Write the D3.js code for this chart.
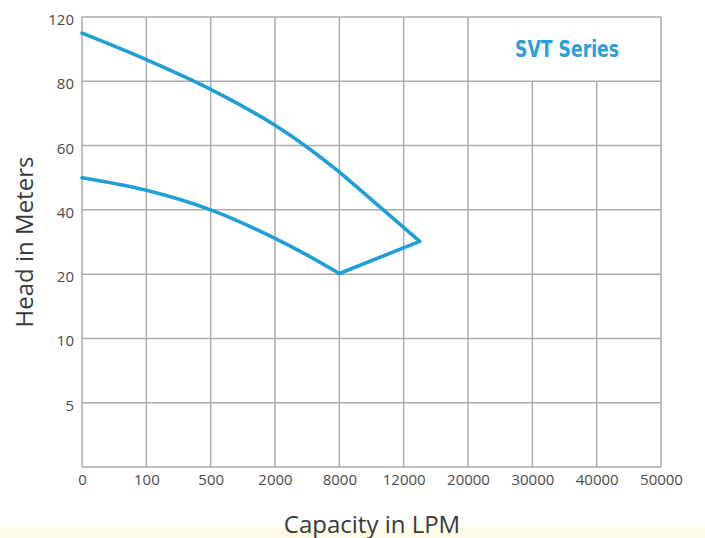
<!doctype html>
<html>
<head>
    <meta charset="UTF-8">
    <title>SVT Series</title>
    <script src="https://cdn.jsdelivr.net/npm/d3@7"></script>
    <style>
        body { margin: 0; background: #fff; }
    </style>
</head>
<body>
    <svg width="705" height="538"></svg>
    <script>
        // tick labels (equally spaced on the chart)
        var xTicks = [0, 100, 500, 2000, 8000, 12000, 20000, 30000, 40000, 50000];
        var yTicks = [0, 5, 10, 20, 40, 60, 80, 120];

        // curves
        var flow = [0, 100, 500, 2000, 5000, 8000];
        var upperHead = [110, 93.5, 77.5, 66.3, 59.5, 51.8];
        var lowerHead = [50, 46.1, 40, 31.1, 25.9, 20.2];
        var tip = [14000, 30.2];

        var padL = 82, padT = 17, w = 579, h = 450;
        var svg = d3.select("svg");

        svg.append("rect")
            .attr("x", 0).attr("y", 527).attr("width", 705).attr("height", 11)
            .attr("fill", "#fefce9");

        var x = d3.scaleLinear()
            .domain(xTicks)
            .range(xTicks.map(function (d, i) { return padL + i * w / (xTicks.length - 1); }));
        var y = d3.scaleLinear()
            .domain(yTicks)
            .range(yTicks.map(function (d, i) { return padT + h - i * h / (yTicks.length - 1); }));

        var grid = svg.append("g")
            .attr("stroke", "#ababab")
            .attr("stroke-width", 1.5);

        grid.selectAll("line.v")
            .data(xTicks)
            .enter().append("line")
            .attr("x1", function (d) { return x(d); })
            .attr("x2", function (d) { return x(d); })
            .attr("y1", function (d) { return (d === 30000 || d === 40000) ? y(80) : y(120); })
            .attr("y2", y(0));

        grid.selectAll("line.h")
            .data(yTicks)
            .enter().append("line")
            .attr("x1", x(0))
            .attr("x2", x(50000))
            .attr("y1", function (d) { return y(d); })
            .attr("y2", function (d) { return y(d); });

        var xAxis = svg.append("g")
            .attr("transform", "translate(0," + (padT + h) + ")")
            .call(d3.axisBottom(x).tickValues(xTicks).tickSize(0).tickPadding(7).tickFormat(function (d) { return d; }));
        var yAxis = svg.append("g")
            .attr("transform", "translate(" + padL + ",0)")
            .call(d3.axisLeft(y).tickValues(yTicks.slice(1)).tickSize(0).tickPadding(8).tickFormat(function (d) { return d; }));

        [xAxis, yAxis].forEach(function (g) {
            g.select(".domain").remove();
            g.selectAll("text")
                .attr("fill", "#4a4a4a")
                .style("font-family", "'Open Sans', sans-serif")
                .style("font-size", "15px");
        });
        yAxis.selectAll("text").attr("dy", "0.5em");

        var curve = d3.line()
            .x(function (d) { return x(d[0]); })
            .y(function (d) { return y(d[1]); })
            .curve(d3.curveMonotoneX);
        var straight = d3.line()
            .x(function (d) { return x(d[0]); })
            .y(function (d) { return y(d[1]); });

        var blue = "#1e9fd6";
        var last = flow.length - 1;
        var paths = [
            [curve, flow.map(function (f, i) { return [f, upperHead[i]]; })],
            [curve, flow.map(function (f, i) { return [f, lowerHead[i]]; })],
            [straight, [[flow[last], upperHead[last]], tip, [flow[last], lowerHead[last]]]]
        ];
        paths.forEach(function (p) {
            svg.append("path")
                .attr("d", p[0](p[1]))
                .attr("fill", "none")
                .attr("stroke", blue)
                .attr("stroke-width", 3.6)
                .attr("stroke-linejoin", "round")
                .attr("stroke-linecap", "round");
        });

        svg.append("text")
            .attr("x", 515).attr("y", 57)
            .attr("textLength", 104)
            .attr("lengthAdjust", "spacingAndGlyphs")
            .attr("fill", "#2a9fd8")
            .style("font-family", "'Liberation Sans Narrow', 'DejaVu Sans Condensed', sans-serif")
            .style("font-weight", "bold")
            .style("font-size", "23px")
            .text("SVT Series");

        svg.append("text")
            .attr("x", 372).attr("y", 533)
            .attr("text-anchor", "middle")
            .attr("fill", "#3a3a3a")
            .style("font-family", "'Open Sans', sans-serif")
            .style("font-size", "24px")
            .text("Capacity in LPM");

        svg.append("text")
            .attr("transform", "translate(33,242) rotate(-90)")
            .attr("text-anchor", "middle")
            .attr("fill", "#3a3a3a")
            .style("font-family", "'Open Sans', sans-serif")
            .style("font-size", "24px")
            .text("Head in Meters");
    </script>
</body>
</html>
